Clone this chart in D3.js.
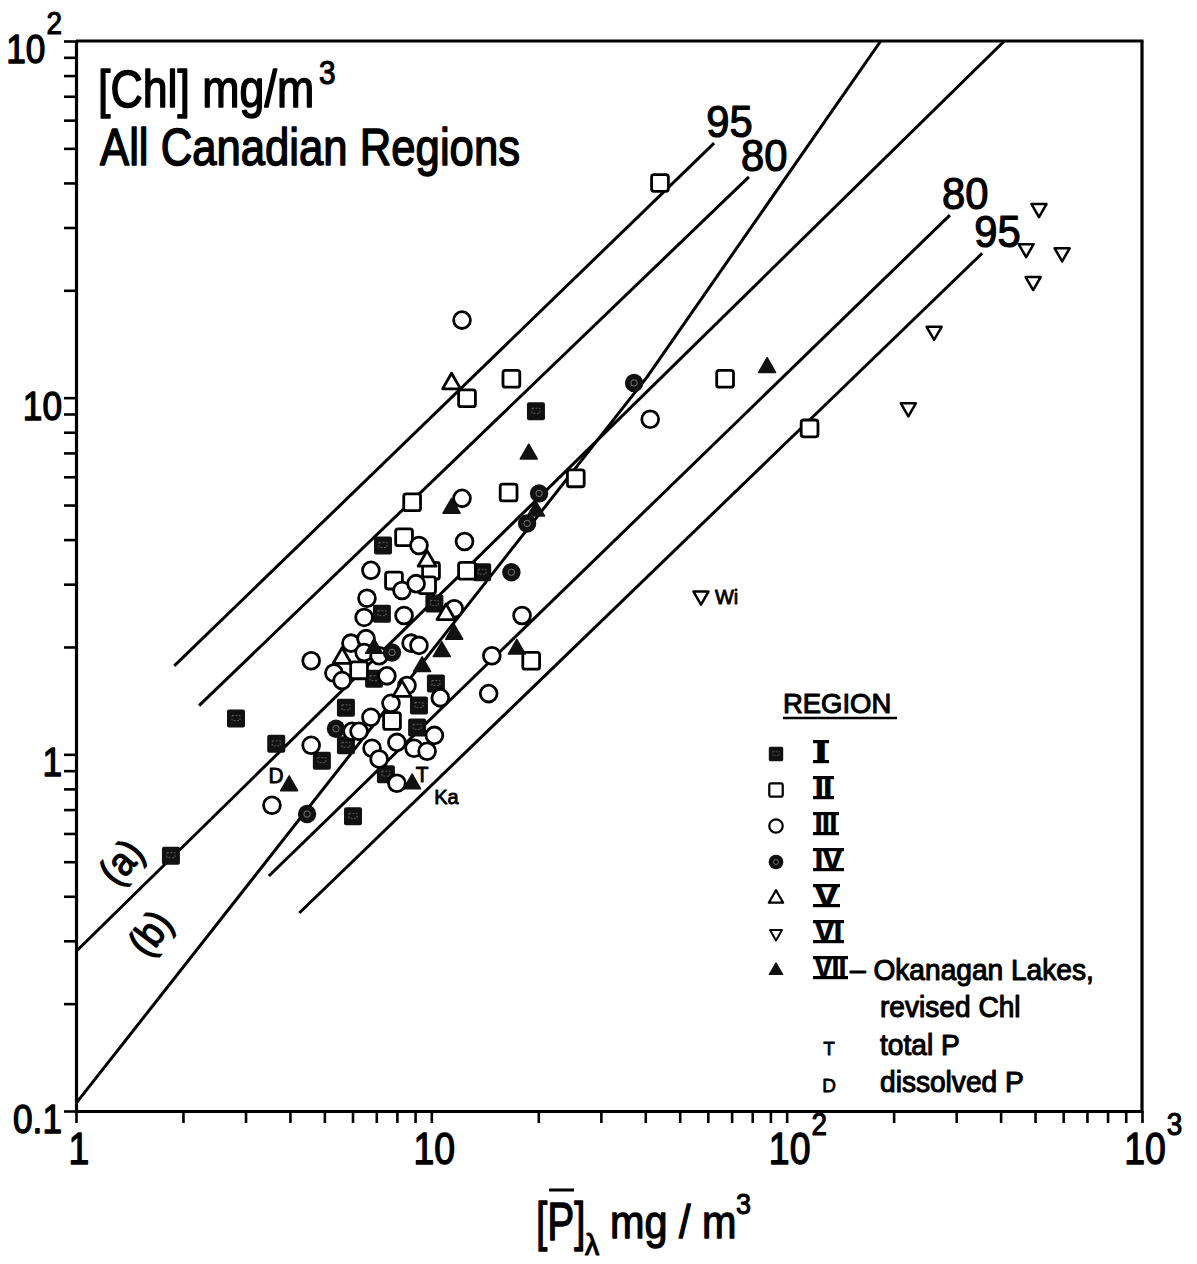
<!DOCTYPE html>
<html>
<head>
<meta charset="utf-8">
<script src="https://cdn.jsdelivr.net/npm/d3@7"></script>
<style>
  html, body { margin: 0; padding: 0; background: #fff; }
  svg { display: block; }
  text { font-family: "Liberation Sans", Arial, sans-serif; fill: #000; }
</style>
</head>
<body>
<svg id="chart" width="1197" height="1264"></svg>
<script>
// Mean chlorophyll vs. mean phosphorus, all Canadian regions (log-log)

// ---- tick labels: [base, superscript]
const xTickValues = [1, 10, 100, 1000];
const xTickLabels = [["1", ""], ["10", ""], ["10", "2"], ["10", "3"]];
const yTickValues = [0.1, 1, 10, 100];
const yTickLabels = [["0.1", ""], ["1", ""], ["10", ""], ["10", "2"]];

// ---- observations: [P mg/m3, Chl mg/m3]
const regionI = [
  [1.85, 0.52], [2.82, 1.26], [3.66, 1.07], [4.92, 0.96], [6.02, 0.67],
  [5.75, 1.35], [5.75, 1.06], [6.9, 1.63], [7.31, 3.85], [7.26, 2.48],
  [7.45, 0.88], [9.12, 1.19], [9.23, 1.37], [10.2, 2.65], [10.3, 1.58],
  [13.9, 3.24], [19.7, 9.16]
];
const regionII = [
  [44, 40], [12.6, 9.96], [16.8, 11.3], [67.1, 11.3], [116, 8.2],
  [8.83, 5.09], [16.5, 5.42], [25.5, 5.94], [8.38, 4.06], [9.98, 3.27],
  [7.85, 3.07], [9.73, 2.98], [12.6, 3.27], [6.26, 1.72], [7.75, 1.24],
  [19.1, 1.83]
];
const regionIII = [
  [12.2, 16.5], [41.3, 8.7], [12.2, 5.22], [12.4, 3.95], [9.23, 3.85],
  [6.76, 3.28], [8.27, 2.88], [9.06, 3.01], [6.59, 2.74], [6.47, 2.42],
  [8.38, 2.45], [11.6, 2.56], [18.0, 2.45], [5.94, 2.05], [6.55, 2.11],
  [8.77, 2.05], [9.23, 2.02], [6.47, 1.93], [7.13, 1.89], [4.59, 1.83],
  [5.32, 1.69], [5.61, 1.61], [7.5, 1.66], [8.54, 1.56], [14.8, 1.89],
  [14.5, 1.48], [10.6, 1.44], [7.7, 1.39], [6.76, 1.27], [5.98, 1.16],
  [6.26, 1.16], [10.2, 1.13], [4.59, 1.06], [8.0, 1.08], [6.81, 1.04],
  [8.94, 1.04], [9.73, 1.02], [7.13, 0.97], [8.0, 0.83], [3.56, 0.72]
];
const regionIV = [
  [37.2, 11.0], [20.1, 5.39], [18.6, 4.44], [16.8, 3.24], [7.75, 1.93],
  [5.39, 1.18], [4.47, 0.68]
];
const regionV = [
  [11.4, 11.0], [9.73, 3.5], [11.0, 2.48], [5.61, 1.87], [8.27, 1.51]
];
const regionVI = [
  [513, 33.8], [472, 26.1], [596, 25.4], [494, 21.1], [260, 15.3],
  [220, 9.34], [57.4, 2.77]
];
const regionVII = [
  [11.4, 4.92], [18.8, 6.98], [19.7, 4.83], [11.6, 2.18], [9.42, 1.77],
  [17.4, 1.98], [6.9, 1.99], [10.7, 1.95], [3.98, 0.82], [8.83, 0.83],
  [88.1, 12.2]
];

// ---- fitted lines and confidence limits: [P, Chl] vertices
const lineA = [[1, 0.28], [410, 100]];
const lineB = [[1, 0.105], [40.4, 11.4], [184, 100]];
const upper95 = [[1.89, 1.77], [62.5, 51.7]];
const upper80 = [[2.22, 1.37], [78.3, 41.6]];
const lower80 = [[3.49, 0.456], [288, 32.5]];
const lower95 = [[4.25, 0.359], [355, 25.4]];
const bandLines = [upper95, upper80, lower80, lower95];
const bandLabels = ["95", "80", "80", "95"];

// ---- point annotations: text, region array, index
const pointNotes = [
  { text: "Wi", set: regionVI, i: 6, dx: 14, dy: 7 },
  { text: "Ka", set: regionVII, i: 9, dx: 22, dy: 21 },
  { text: "T", set: regionVII, i: 9, dx: 10, dy: -1, size: 22 },
  { text: "D", set: regionVII, i: 8, dx: -13, dy: -2, size: 22 }
];

// ---- legend
const legendNumerals = ["I", "II", "III", "IV", "V", "VI", "VII"];
const legendSymbols = ["filledSquare", "square", "circle", "filledCircle", "triangle", "downTriangle", "filledTriangle"];

// ======================================================
const svg = d3.select("#chart");
const plotL = 76, plotR = 1142, plotT = 41, plotB = 1111;

const x = d3.scaleLog().domain([1, 1000]).range([plotL, plotR]);
const y = d3.scaleLog().domain([0.1, 100]).range([plotB, plotT]);

// condensed text helper
function ctext(g, str, px, py, size, anchor, sx, heavy) {
  return g.append("text")
    .attr("transform", `translate(${px},${py}) scale(${sx || 1},1)`)
    .attr("font-size", size)
    .attr("text-anchor", anchor || "start")
    .attr("stroke", "#000").attr("stroke-width", heavy == null ? 1.1 : heavy)
    .attr("stroke-linejoin", "round")
    .text(str);
}

// ---- axes
const axisG = svg.append("g");
const xAxis = d3.axisBottom(x).tickValues(x.ticks()).tickSize(12).tickSizeOuter(0).tickFormat("");
const yAxis = d3.axisLeft(y).tickValues(y.ticks()).tickSize(12).tickSizeOuter(0).tickFormat("");
const gx = axisG.append("g").attr("transform", `translate(0,${plotB})`).call(xAxis);
const gy = axisG.append("g").attr("transform", `translate(${plotL},0)`).call(yAxis);
[gx, gy].forEach(g => {
  g.select(".domain").attr("stroke", "#000").attr("stroke-width", 3.2);
  g.selectAll(".tick line").attr("stroke", "#000").attr("stroke-width", 2.6);
});
// frame top and right
axisG.append("line").attr("x1", plotL).attr("x2", plotR + 1.5).attr("y1", plotT).attr("y2", plotT)
  .attr("stroke", "#000").attr("stroke-width", 3.2);
axisG.append("line").attr("x1", plotR).attr("x2", plotR).attr("y1", plotT).attr("y2", plotB + 1.5)
  .attr("stroke", "#000").attr("stroke-width", 3.2);

// x tick labels
const labG = svg.append("g");
xTickValues.forEach((v, i) => {
  const [base, sup] = xTickLabels[i];
  const cx = x(v) + 3;
  const t = ctext(labG, base, cx, plotB + 53, 44, "middle", 0.85, 1.4);
  if (sup) {
    const w = t.node().getComputedTextLength() * 0.85;
    ctext(labG, sup, cx + w / 2 + 1, plotB + 24, 31, "start", 0.9, 1.1);
  }
});
// y tick labels
yTickValues.forEach((v, i) => {
  const [base, sup] = yTickLabels[i];
  const py = y(v) + 22;
  if (sup) {
    const s = ctext(labG, sup, 62, py - 29, 31, "end", 0.9, 1.1);
    const sw = s.node().getComputedTextLength() * 0.9;
    ctext(labG, base, 62 - sw - 1, py, 41, "end", 0.86, 1.4);
  } else {
    ctext(labG, base, 62, py, 41, "end", 0.86, 1.4);
  }
});

// axis title  [P̄]λ mg/m3
const tG = svg.append("g");
ctext(tG, "[P]", 536, 1240, 54, "start", 0.75, 1.3);
tG.append("line").attr("x1", 549).attr("x2", 574).attr("y1", 1190).attr("y2", 1190)
  .attr("stroke", "#000").attr("stroke-width", 3);
ctext(tG, "\u03bb", 585, 1255, 30, "start", 0.95, 1.1);
ctext(tG, "mg / m", 610, 1238, 46, "start", 0.9, 1.3);
ctext(tG, "3", 736, 1214, 30, "start", 0.9, 1.1);

// in-plot title
ctext(tG, "[Chl] mg/m", 98, 107, 52, "start", 0.86, 1.5);
ctext(tG, "3", 319, 84, 33, "start", 0.9, 1.2);
ctext(tG, "All Canadian Regions", 100, 165, 52, "start", 0.84, 1.5);

// ---- fitted lines and limits
svg.append("clipPath").attr("id", "plotClip")
  .append("rect").attr("x", plotL).attr("y", plotT).attr("width", plotR - plotL).attr("height", plotB - plotT);
const lineGen = d3.line().x(d => x(d[0])).y(d => y(d[1]));
const linesG = svg.append("g").attr("clip-path", "url(#plotClip)");
[lineA, lineB].concat(bandLines).forEach(l => {
  linesG.append("path").attr("d", lineGen(l)).attr("fill", "none")
    .attr("stroke", "#000").attr("stroke-width", 3).attr("stroke-linejoin", "round");
});
bandLines.forEach((l, i) => {
  const end = l[l.length - 1];
  ctext(svg, bandLabels[i], x(end[0]) - 8, y(end[1]) - 6, 44, "start", 0.95, 1.2);
});
// line identifiers
const idG = svg.append("g");
function rotLabel(str, cx, cy, ang) {
  idG.append("text")
    .attr("transform", `translate(${cx},${cy}) rotate(${ang}) scale(0.9,1)`)
    .attr("font-size", 40).attr("text-anchor", "middle").attr("dominant-baseline", "central")
    .attr("stroke", "#000").attr("stroke-width", 1.3)
    .text(str);
}
rotLabel("(a)", 121, 862, -50);
rotLabel("(b)", 150, 933, -53);

// ---- markers
const SW = 2.8;
const markG = svg.append("g");
function triPath(s, down) {
  const h = s * 0.866, k = down ? -1 : 1;
  return `M0,${-k * h * 0.62}L${s / 2},${k * h * 0.38}L${-s / 2},${k * h * 0.38}Z`;
}
function drawSymbol(g, kind, px, py, scale) {
  const sc = scale || 1;
  const s = g.append("g").attr("transform", `translate(${px},${py}) scale(${sc})`);
  if (kind === "filledSquare") {
    s.append("rect").attr("x", -9).attr("y", -9).attr("width", 18).attr("height", 18).attr("rx", 2)
      .attr("fill", "#111");
    s.append("rect").attr("x", -4).attr("y", -3).attr("width", 8).attr("height", 5)
      .attr("fill", "none").attr("stroke", "#666").attr("stroke-width", 0.9).attr("stroke-dasharray", "2,1.5");
  } else if (kind === "square") {
    s.append("rect").attr("x", -8.4).attr("y", -8.4).attr("width", 16.8).attr("height", 16.8).attr("rx", 2.5)
      .attr("fill", "#fff").attr("stroke", "#000").attr("stroke-width", SW);
  } else if (kind === "circle") {
    s.append("circle").attr("r", 8.4).attr("fill", "#fff").attr("stroke", "#000").attr("stroke-width", SW);
  } else if (kind === "filledCircle") {
    s.append("circle").attr("r", 9.2).attr("fill", "#111");
    s.append("circle").attr("r", 3.2).attr("fill", "none").attr("stroke", "#777").attr("stroke-width", 1);
  } else if (kind === "triangle") {
    s.append("path").attr("d", triPath(18, false)).attr("fill", "#fff")
      .attr("stroke", "#000").attr("stroke-width", SW).attr("stroke-linejoin", "round");
  } else if (kind === "downTriangle") {
    s.append("path").attr("d", triPath(15, true)).attr("fill", "#fff")
      .attr("stroke", "#000").attr("stroke-width", 2.5).attr("stroke-linejoin", "round");
  } else if (kind === "filledTriangle") {
    s.append("path").attr("d", triPath(17, false)).attr("fill", "#111")
      .attr("stroke", "#111").attr("stroke-width", 1.5).attr("stroke-linejoin", "round");
  }
}
const regionSets = [regionI, regionII, regionIII, regionIV, regionV, regionVI, regionVII];
regionSets.forEach((set, r) => {
  set.forEach(d => drawSymbol(markG, legendSymbols[r], x(d[0]), y(d[1])));
});

// point annotations
pointNotes.forEach(n => {
  const d = n.set[n.i];
  ctext(svg, n.text, x(d[0]) + n.dx, y(d[1]) + n.dy, n.size || 21,
        n.text.length === 1 ? "middle" : "start", 0.95, 0.9);
});

// ---- legend
const legG = svg.append("g");
ctext(legG, "REGION", 783, 713, 28, "start", 0.98, 1.1);
legG.append("line").attr("x1", 783).attr("x2", 897).attr("y1", 718).attr("y2", 718)
  .attr("stroke", "#000").attr("stroke-width", 2.5);
const rowBase = 762, rowStep = 36;
const numeralWidths = { "I": 12, "II": 17, "III": 22, "IV": 27, "V": 23, "VI": 27, "VII": 31 };
legendNumerals.forEach((nm, i) => {
  const base = rowBase + i * rowStep;
  drawSymbol(legG, legendSymbols[i], 776, base - 8, 0.8);
  const w = numeralWidths[nm];
  legG.append("text").attr("x", 815).attr("y", base)
    .attr("font-family", "'Liberation Serif', 'Times New Roman', serif")
    .attr("font-weight", "bold").attr("font-size", 30)
    .attr("textLength", w).attr("lengthAdjust", "spacingAndGlyphs")
    .attr("stroke", "#000").attr("stroke-width", 0.8)
    .text(nm);
  legG.append("rect").attr("x", 813).attr("y", base - 22).attr("width", w + 4).attr("height", 3.2).attr("fill", "#000");
  legG.append("rect").attr("x", 813).attr("y", base - 2).attr("width", w + 4).attr("height", 3.2).attr("fill", "#000");
});
const vIIbase = rowBase + 6 * rowStep;
ctext(legG, "\u2013 Okanagan Lakes,", 850, vIIbase + 2, 29, "start", 0.97, 1.1);
ctext(legG, "revised Chl", 880, vIIbase + 39, 29, "start", 0.97, 1.1);
ctext(legG, "T", 829, vIIbase + 77, 19, "middle", 1, 0.8);
ctext(legG, "total P", 880, vIIbase + 77, 29, "start", 0.97, 1.1);
ctext(legG, "D", 829, vIIbase + 114, 19, "middle", 1, 0.8);
ctext(legG, "dissolved P", 880, vIIbase + 114, 29, "start", 0.97, 1.1);
</script>
</body>
</html>
